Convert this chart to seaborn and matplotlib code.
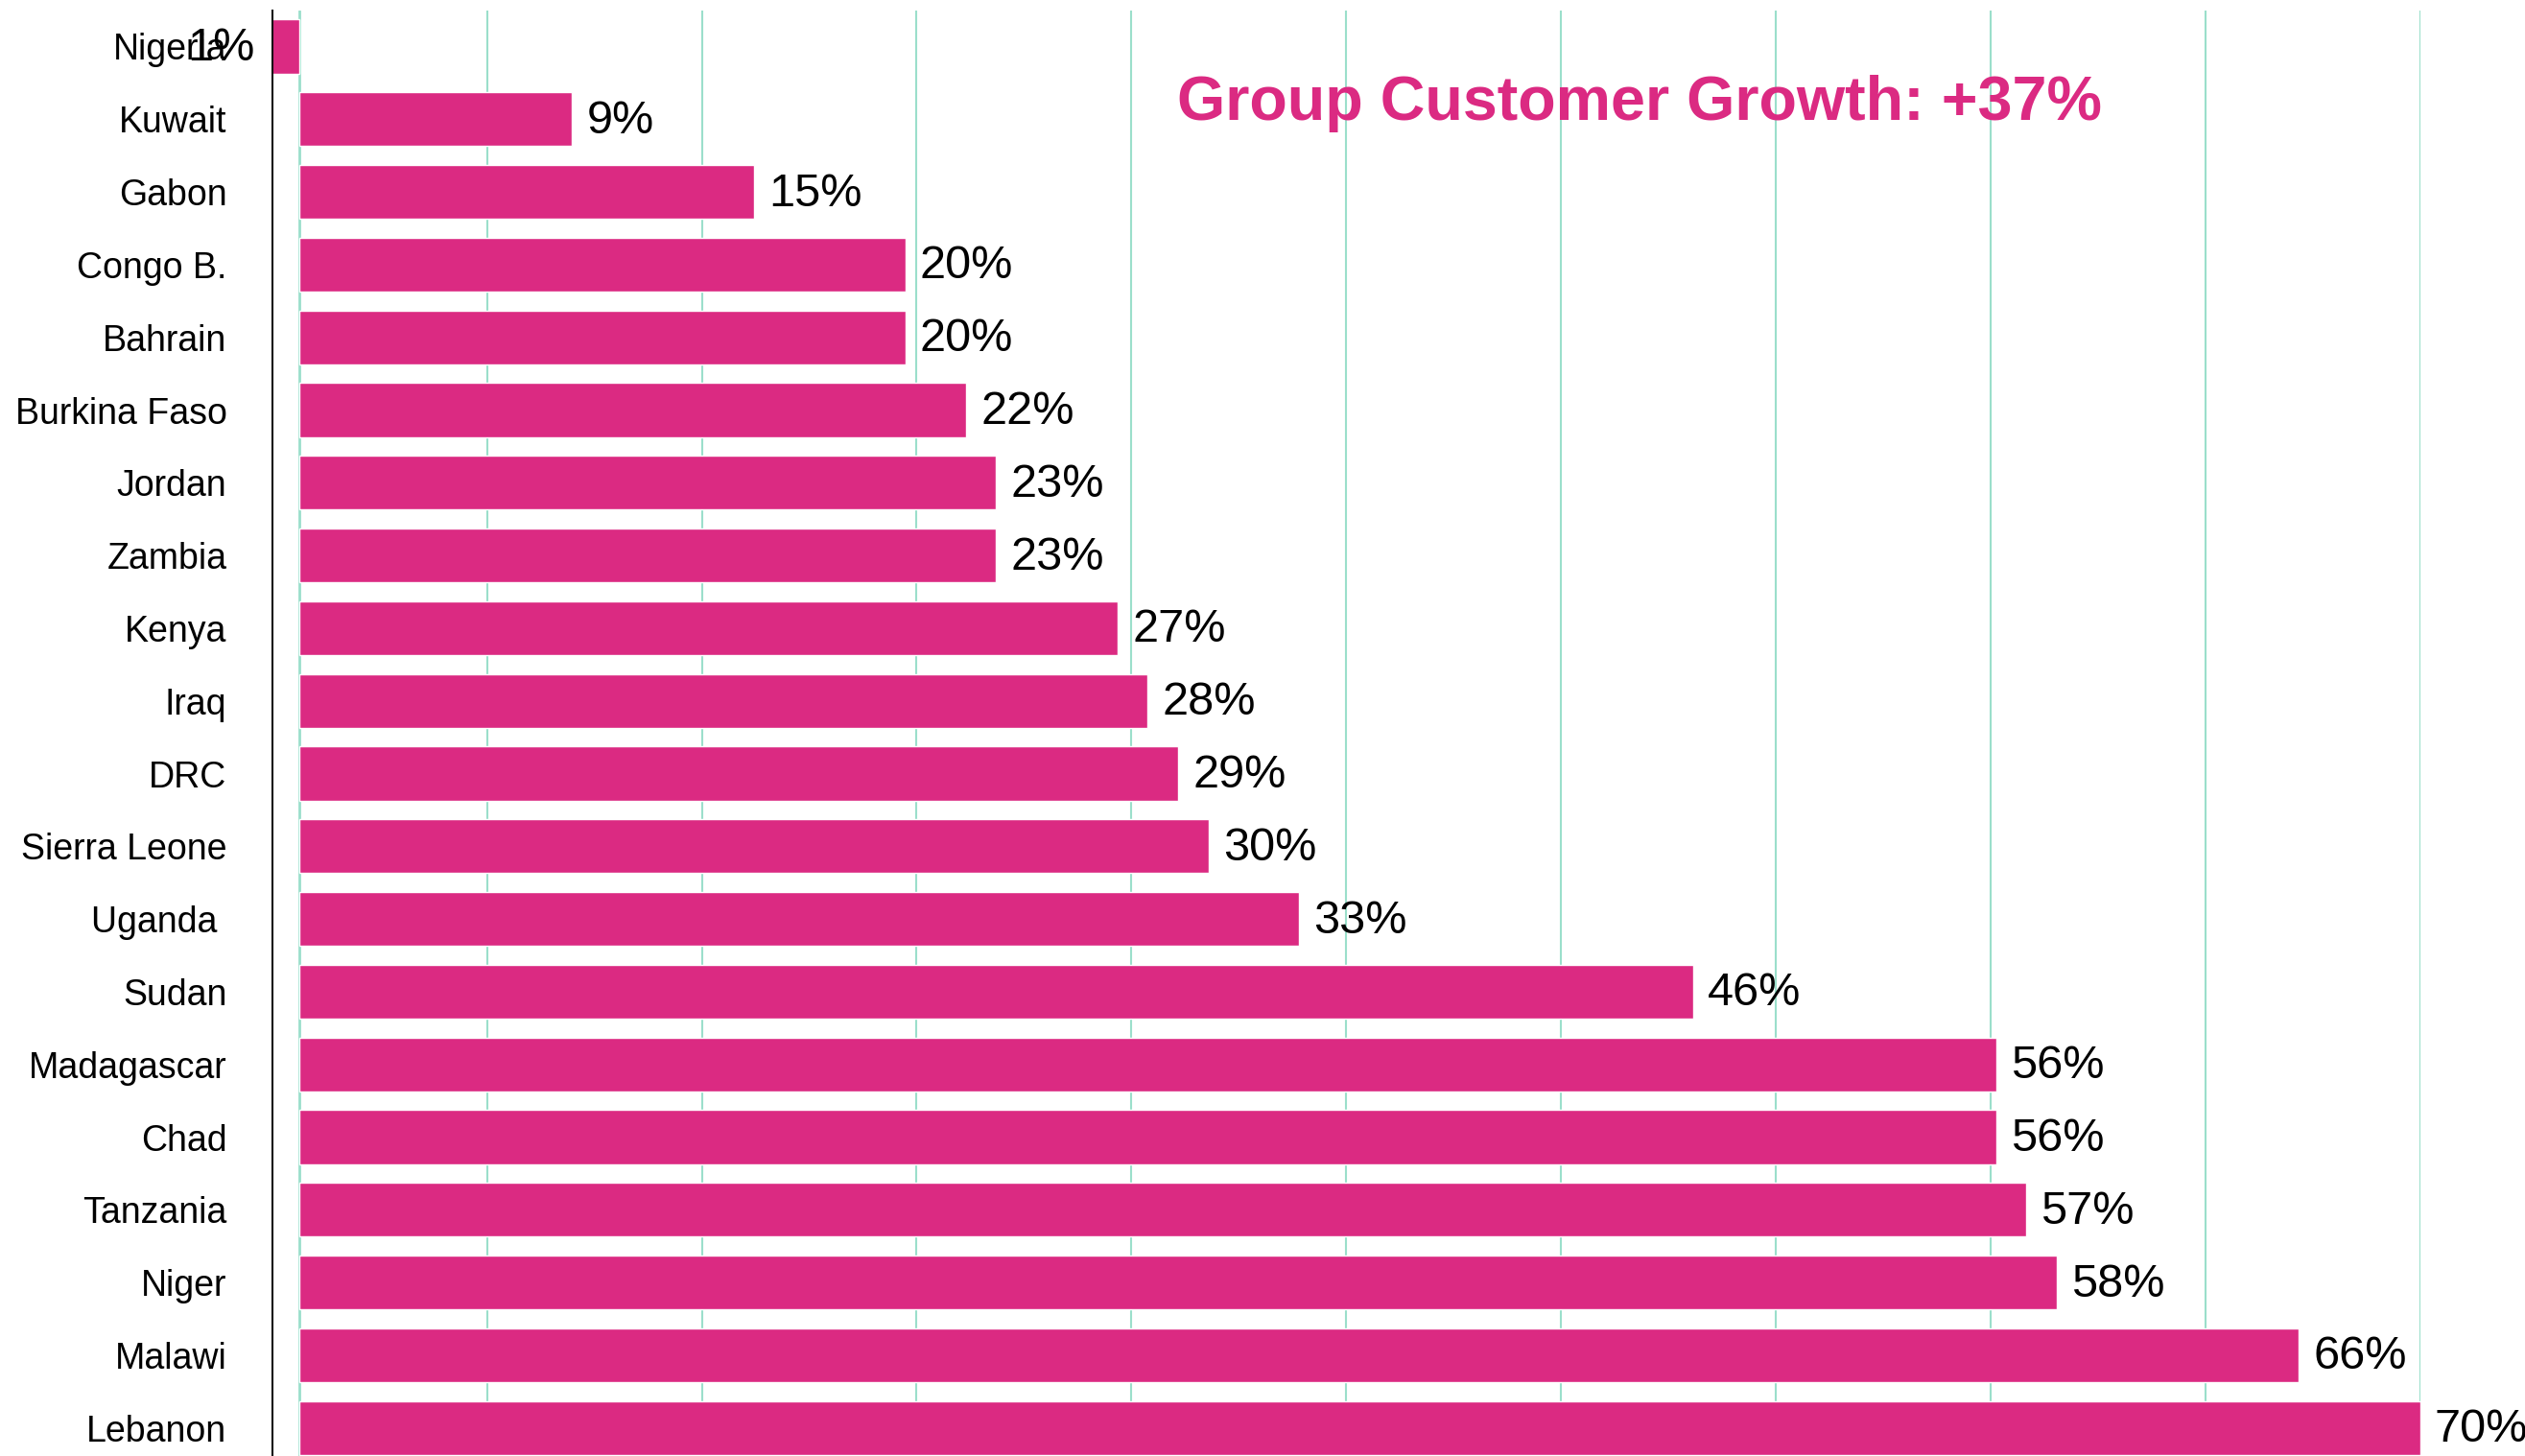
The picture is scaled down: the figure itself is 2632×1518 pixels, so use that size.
import matplotlib
matplotlib.use("Agg")
import matplotlib.pyplot as plt
import numpy as np
import pandas as pd
import seaborn as sns

# customer growth by country (%)
countries = ["Nigeria", "Kuwait", "Gabon", "Congo B.", "Bahrain", "Burkina Faso",
             "Jordan", "Zambia", "Kenya", "Iraq", "DRC", "Sierra Leone", "Uganda ",
             "Sudan", "Madagascar", "Chad", "Tanzania", "Niger", "Malawi", "Lebanon"]
growth = [-1, 9, 15, 20, 20, 22, 23, 23, 27, 28, 29, 30, 33, 46, 56, 56, 57, 58, 66, 70]
title_text = "Group Customer Growth: +37%"

pink = "#DB2A82"
teal = "#9BDFCB"

df = pd.DataFrame({"country": countries, "growth": growth})

sns.set_style("white")
plt.rcParams["font.family"] = ["Liberation Sans", "DejaVu Sans"]

fig = plt.figure(figsize=(26.32, 15.18), dpi=100)
ax = fig.add_axes([283.7 / 2632, 0, (2522.7 - 283.7) / 2632, 1 - 10.6 / 1518])

sns.barplot(data=df, x="growth", y="country", orient="h", color=pink,
            saturation=1, width=0.74, ax=ax, zorder=3)

ax.set_xlim(-0.9, 70)
ax.set_ylim((1518 - 48.5) / 75.8, -0.5)

# vertical gridlines + zero line
for gx in np.linspace(-0.9, 70, 11)[1:]:
    ax.axvline(gx, color=teal, lw=1.5, zorder=1)
ax.axvline(0, color=teal, lw=2, zorder=2)

for s in ["top", "right", "bottom"]:
    ax.spines[s].set_visible(False)
ax.spines["left"].set_color("#111111")
ax.spines["left"].set_linewidth(1.5)
ax.spines["left"].set_zorder(4)

ax.set_xticks([])
ax.set_xlabel("")
ax.set_ylabel("")
ax.tick_params(axis="y", length=0, pad=34, labelsize=27, labelcolor="black")

# value labels
for i, v in enumerate(growth):
    if v >= 0:
        ax.annotate(f"{v}%", (v, i), xytext=(11, -1.5), textcoords="offset points",
                    ha="left", va="center", fontsize=35, color="black", zorder=5,
                    annotation_clip=False)
    else:
        ax.annotate(f"{abs(v)}%", (v, i), xytext=(-11, -1.5), textcoords="offset points",
                    ha="right", va="center", fontsize=35, color="black", zorder=5,
                    annotation_clip=False)

fig.text(1227 / 2632, 1 - 125 / 1518, title_text, ha="left", va="baseline",
         fontsize=46.5, fontweight="bold", color=pink)

fig.savefig("out.png", dpi=100, facecolor="white")
